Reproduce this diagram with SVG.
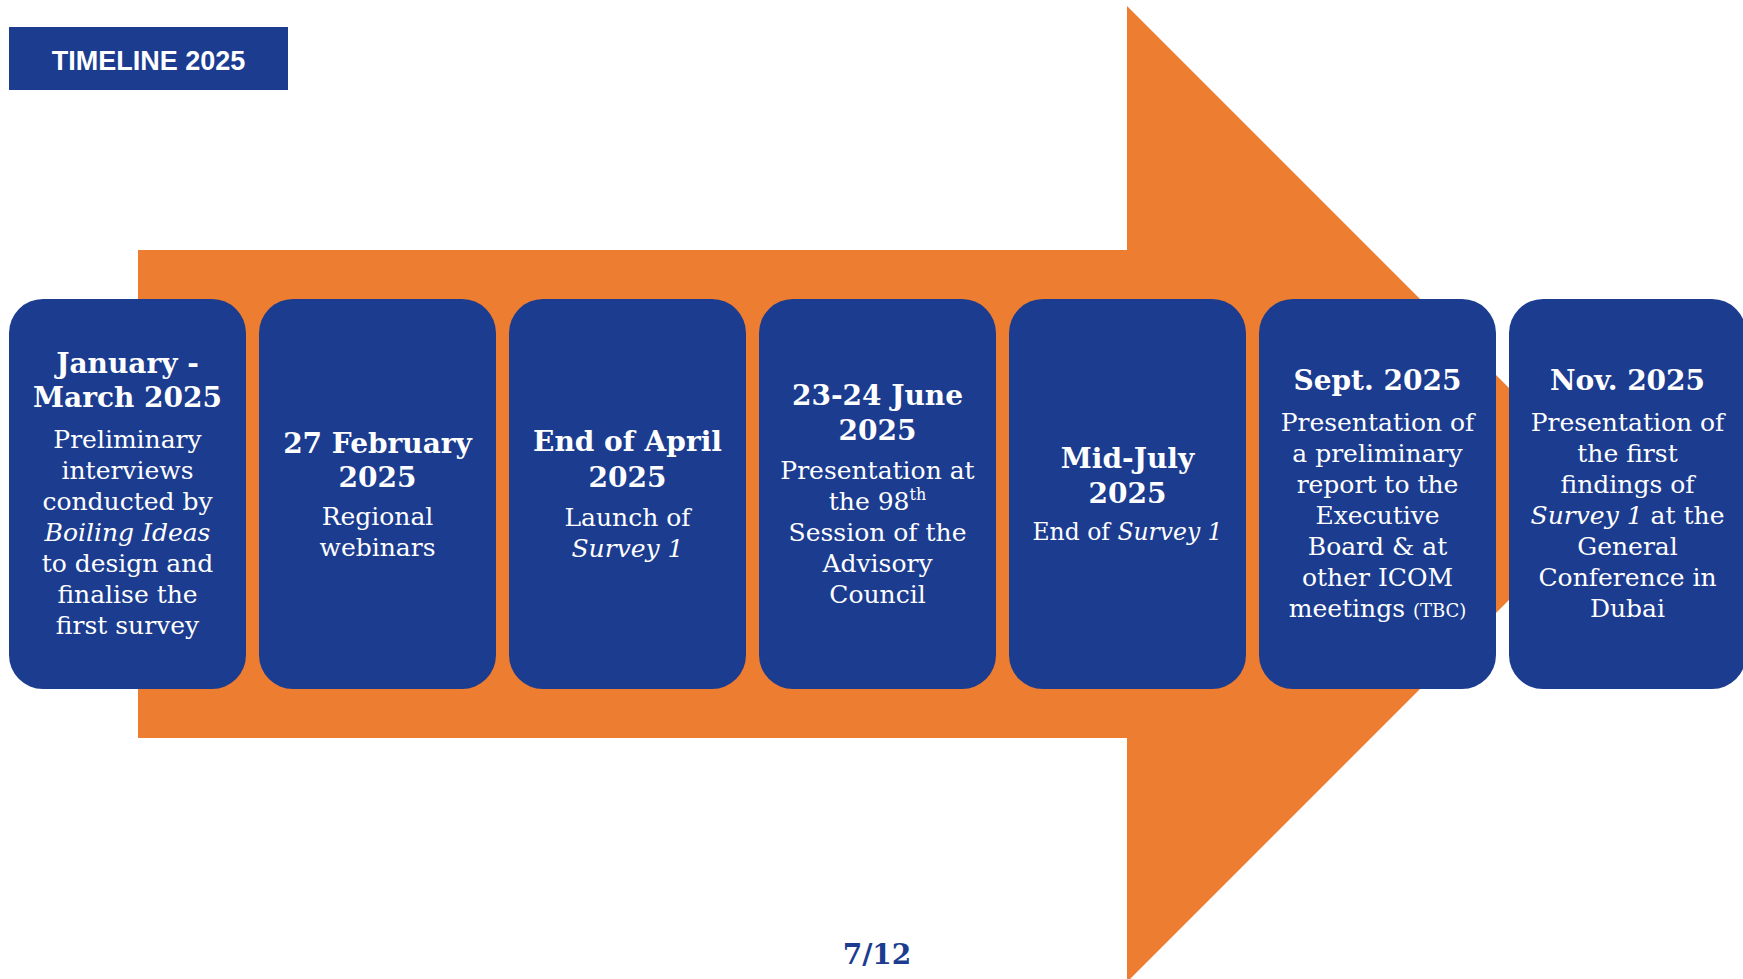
<svg xmlns="http://www.w3.org/2000/svg" width="1743" height="979" viewBox="0 0 1743 979">
  <style>
    .box { fill: #1B3C8F; }
    .t { fill: #FFFFFF; font-family: "DejaVu Serif", "Liberation Serif", serif; text-anchor: middle; }
    .h { font-size: 28px; font-weight: bold; }
    .b { font-size: 25px; }
    .i { font-style: italic; }
    .sup { font-size: 16px; }
    .sm { font-size: 18px; }
  </style>

  <rect width="1743" height="979" fill="#FFFFFF"/>

  <!-- title banner -->
  <g id="title">
    <rect x="9" y="27" width="279" height="63" class="box"/>
    <text x="148.5" y="70" fill="#FFFFFF" font-family="Liberation Sans, Arial, sans-serif" font-size="27" font-weight="bold" text-anchor="middle">TIMELINE 2025</text>
  </g>

  <!-- large orange arrow running behind the milestones -->
  <g id="connectors">
    <polygon points="138,250 1127,250 1127,6 1615,494 1127,982 1127,738 138,738" fill="#ED7D31"/>
  </g>

  <g id="m1">
    <rect x="9" y="299" width="237" height="390" rx="34" class="box"/>
    <text class="t h" x="127.5" y="373">January -</text>
    <text class="t h" x="127.5" y="407">March 2025</text>
    <text class="t b" x="127.5" y="448">Preliminary</text>
    <text class="t b" x="127.5" y="479">interviews</text>
    <text class="t b" x="127.5" y="510">conducted by</text>
    <text class="t b i" x="127.5" y="541">Boiling Ideas</text>
    <text class="t b" x="127.5" y="572">to design and</text>
    <text class="t b" x="127.5" y="603">finalise the</text>
    <text class="t b" x="127.5" y="634">first survey</text>
  </g>

  <g id="m2">
    <rect x="259" y="299" width="237" height="390" rx="34" class="box"/>
    <text class="t h" x="377.5" y="453">27 February</text>
    <text class="t h" x="377.5" y="487">2025</text>
    <text class="t b" x="377.5" y="525">Regional</text>
    <text class="t b" x="377.5" y="556">webinars</text>
  </g>

  <g id="m3">
    <rect x="509" y="299" width="237" height="390" rx="34" class="box"/>
    <text class="t h" x="627.5" y="451">End of April</text>
    <text class="t h" x="627.5" y="487">2025</text>
    <text class="t b" x="627.5" y="526">Launch of</text>
    <text class="t b i" x="627.5" y="557">Survey 1</text>
  </g>

  <g id="m4">
    <rect x="759" y="299" width="237" height="390" rx="34" class="box"/>
    <text class="t h" x="877.5" y="405">23-24 June</text>
    <text class="t h" x="877.5" y="440">2025</text>
    <text class="t b" x="877.5" y="479">Presentation at</text>
    <text class="t b" x="877.5" y="510">the 98<tspan class="sup" dy="-10">th</tspan></text>
    <text class="t b" x="877.5" y="541">Session of the</text>
    <text class="t b" x="877.5" y="572">Advisory</text>
    <text class="t b" x="877.5" y="603">Council</text>
  </g>

  <g id="m5">
    <rect x="1009" y="299" width="237" height="390" rx="34" class="box"/>
    <text class="t h" x="1127.5" y="468">Mid-July</text>
    <text class="t h" x="1127.5" y="503">2025</text>
    <text class="t b" x="1127.5" y="540" textLength="190" lengthAdjust="spacingAndGlyphs">End of <tspan class="i">Survey 1</tspan></text>
  </g>

  <g id="m6">
    <rect x="1259" y="299" width="237" height="390" rx="34" class="box"/>
    <text class="t h" x="1377.5" y="390">Sept. 2025</text>
    <text class="t b" x="1377.5" y="431">Presentation of</text>
    <text class="t b" x="1377.5" y="462">a preliminary</text>
    <text class="t b" x="1377.5" y="493">report to the</text>
    <text class="t b" x="1377.5" y="524">Executive</text>
    <text class="t b" x="1377.5" y="555">Board &amp; at</text>
    <text class="t b" x="1377.5" y="586">other ICOM</text>
    <text class="t b" x="1377.5" y="617">meetings <tspan class="sm">(TBC)</tspan></text>
  </g>

  <g id="m7">
    <rect x="1509" y="299" width="237" height="390" rx="34" class="box"/>
    <text class="t h" x="1627.5" y="390">Nov. 2025</text>
    <text class="t b" x="1627.5" y="431">Presentation of</text>
    <text class="t b" x="1627.5" y="462">the first</text>
    <text class="t b" x="1627.5" y="493">findings of</text>
    <text class="t b" x="1627.5" y="524"><tspan class="i">Survey 1</tspan> at the</text>
    <text class="t b" x="1627.5" y="555">General</text>
    <text class="t b" x="1627.5" y="586">Conference in</text>
    <text class="t b" x="1627.5" y="617">Dubai</text>
  </g>

  <!-- page number -->
  <g id="page">
    <text x="877" y="964" fill="#1B3C8F" font-family="DejaVu Serif, Liberation Serif, serif" font-size="28" font-weight="bold" text-anchor="middle">7/12</text>
  </g>
</svg>
